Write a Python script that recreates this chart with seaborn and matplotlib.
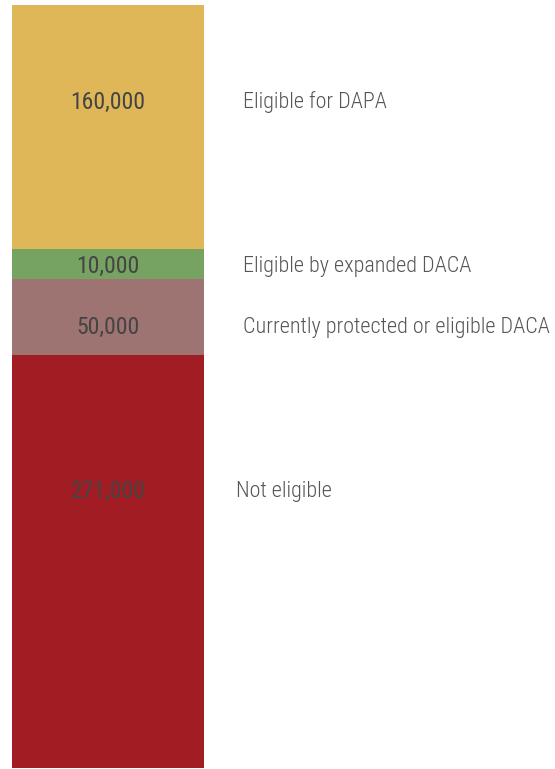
import numpy as np
import pandas as pd
import matplotlib
matplotlib.use("Agg")
import matplotlib.pyplot as plt
from matplotlib import font_manager
import seaborn as sns

# segments, bottom to top
groups = ["Not eligible", "Currently protected or eligible DACA",
          "Eligible by expanded DACA", "Eligible for DAPA"]
counts = [271000, 50000, 10000, 160000]
colors = ["#A21C24", "#9E7472", "#76A262", "#DFB758"]

# small segments get a minimum drawn height so their label fits
min_display = 20000
# where the number sits inside its segment (fraction down from the segment top)
label_frac = [0.33, 0.64, 0.58, 0.40]
label_x = [1.167, 1.203, 1.203, 1.203]

sns.set_theme(style="white")

# pick a narrow face if one is around
fonts = font_manager.fontManager.ttflist
names = {f.name for f in fonts}
family, stretch = "DejaVu Sans", "normal"
for cand in ["Roboto Condensed", "Liberation Sans Narrow", "Open Sans Condensed"]:
    if cand in names:
        family = cand
        break
else:
    if any(f.name == "DejaVu Sans" and str(f.stretch) in ("condensed", "semi-condensed")
           for f in fonts):
        stretch = "condensed"
plt.rcParams["font.family"] = [family, "DejaVu Sans"]
plt.rcParams["font.stretch"] = stretch

display = np.maximum(np.array(counts), min_display)
tops = np.cumsum(display)
bottoms = tops - display

df = pd.DataFrame({"group": groups, "count": counts, "top": tops,
                   "bottom": bottoms, "color": colors})

fig = plt.figure(figsize=(5.55, 7.69), dpi=100)
W, H = 555, 769
ax = fig.add_axes([12 / W, 1 - 768 / H, (204 - 12) / W, (768 - 5) / H])

# stacked bar: draw cumulative tops from tallest to shortest
for _, row in df[::-1].iterrows():
    sns.barplot(x=["all"], y=[row["top"]], color=row["color"], width=1.0,
                saturation=1, linewidth=0, ax=ax)

ax.set_xlim(-0.5, 0.5)
ax.set_ylim(0, tops[-1])
ax.axis("off")


# size text so widths match the reference (numbers ~74px, longest label ~310px)
def fit_size(s, target_px, weight="normal", base=10):
    t = fig.text(0, 0, s, fontsize=base, fontweight=weight)
    w = t.get_window_extent(renderer=fig.canvas.get_renderer()).width
    t.remove()
    return base * target_px / w


num_size = min(fit_size("160,000", 74), 22)
lab_size = min(fit_size("Currently protected or eligible DACA", 308, "light"), 22)

for i, row in df.iterrows():
    seg_h = row["top"] - row["bottom"]
    y = row["top"] - label_frac[i] * seg_h
    ax.text(0, y, f"{row['count']:,}", ha="center", va="center",
            fontsize=num_size, color="#444444")
    ax.text(label_x[i], y, row["group"], ha="left", va="center",
            fontsize=lab_size, fontweight="light", color="#555555",
            transform=ax.get_yaxis_transform(), clip_on=False)

fig.savefig("out.png", dpi=100)
